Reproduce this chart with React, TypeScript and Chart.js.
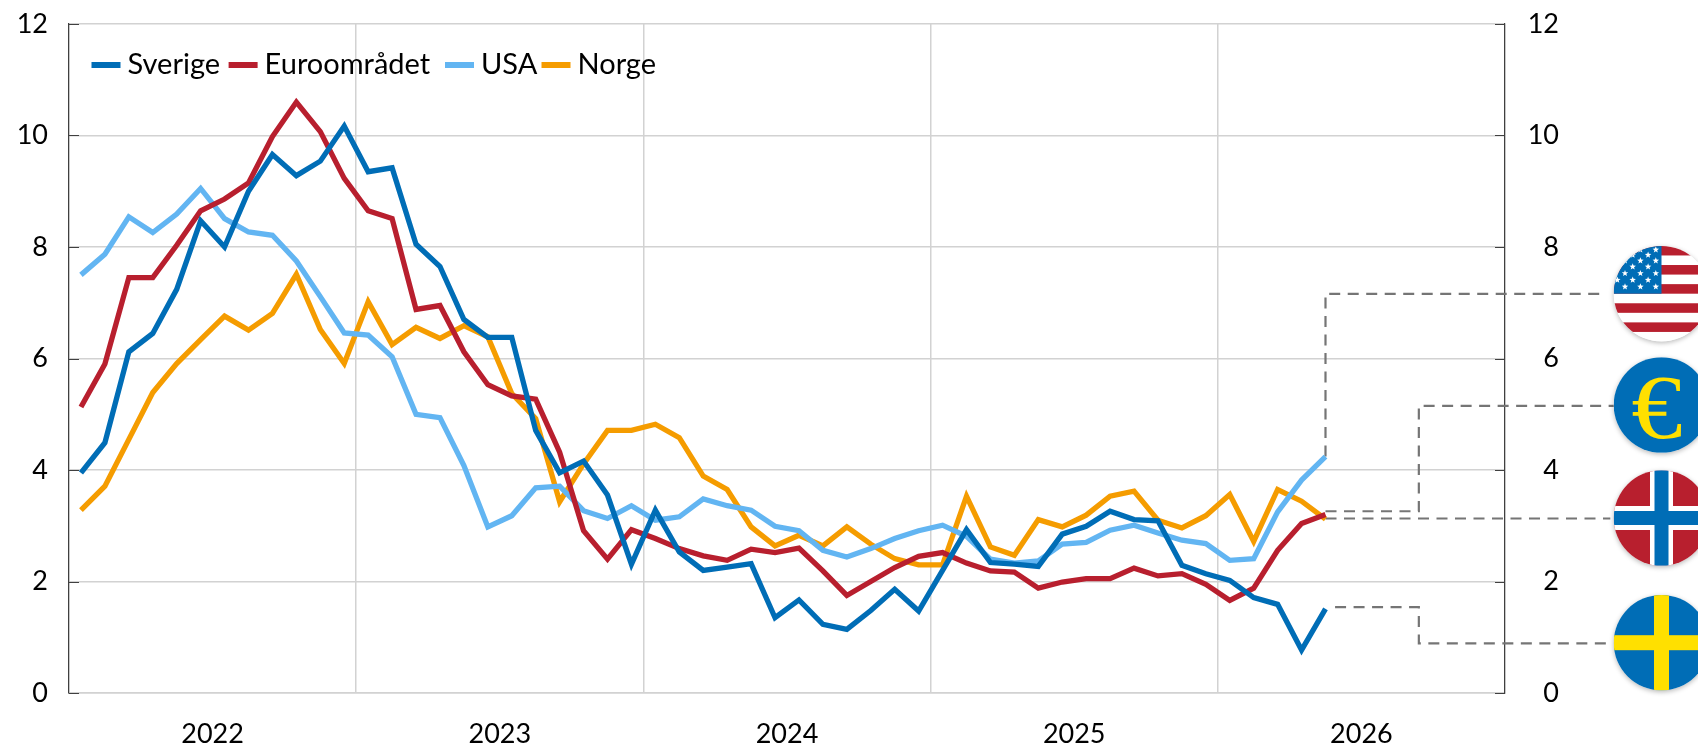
import React, { useEffect, useRef } from "react";
import { Chart, registerables } from "chart.js";

Chart.register(...registerables);

const years = ["2022", "2023", "2024", "2025", "2026"];
const yTicks = [0, 2, 4, 6, 8, 10, 12];

const sverige = [3.95, 4.49, 6.12, 6.45, 7.24, 8.47, 8.0, 9.0, 9.66, 9.28, 9.54, 10.17, 9.35, 9.42, 8.05, 7.65, 6.7, 6.38, 6.38, 4.71, 3.95, 4.16, 3.55, 2.31, 3.28, 2.53, 2.2, 2.26, 2.32, 1.35, 1.67, 1.23, 1.14, 1.48, 1.86, 1.47, 2.2, 2.93, 2.34, 2.31, 2.27, 2.85, 2.99, 3.26, 3.11, 3.09, 2.29, 2.14, 2.02, 1.71, 1.59, 0.77, 1.51];
const euro = [5.13, 5.9, 7.45, 7.45, 8.03, 8.65, 8.86, 9.15, 9.98, 10.6, 10.07, 9.23, 8.65, 8.51, 6.88, 6.95, 6.12, 5.53, 5.33, 5.27, 4.32, 2.91, 2.4, 2.93, 2.77, 2.59, 2.46, 2.38, 2.58, 2.52, 2.6, 2.19, 1.75, 2.0, 2.25, 2.45, 2.52, 2.33, 2.19, 2.17, 1.88, 1.99, 2.05, 2.05, 2.24, 2.1, 2.14, 1.95, 1.66, 1.88, 2.56, 3.04, 3.2];
const usa = [7.5, 7.87, 8.54, 8.26, 8.59, 9.05, 8.51, 8.27, 8.21, 7.75, 7.11, 6.46, 6.42, 6.03, 5.0, 4.94, 4.08, 2.98, 3.18, 3.68, 3.71, 3.27, 3.13, 3.36, 3.1, 3.16, 3.48, 3.36, 3.28, 2.99, 2.91, 2.56, 2.44, 2.59, 2.77, 2.91, 3.01, 2.81, 2.4, 2.33, 2.37, 2.67, 2.7, 2.92, 3.01, 2.87, 2.74, 2.68, 2.38, 2.41, 3.25, 3.82, 4.24];
const norge = [3.28, 3.71, 4.55, 5.39, 5.91, 6.34, 6.76, 6.51, 6.81, 7.51, 6.52, 5.91, 7.02, 6.25, 6.56, 6.36, 6.59, 6.39, 5.37, 4.92, 3.43, 4.11, 4.71, 4.71, 4.82, 4.58, 3.89, 3.65, 2.98, 2.64, 2.83, 2.64, 2.98, 2.67, 2.41, 2.3, 2.3, 3.53, 2.62, 2.47, 3.11, 2.98, 3.19, 3.53, 3.62, 3.1, 2.96, 3.18, 3.56, 2.72, 3.65, 3.44, 3.12];

// Leader lines from each series' last value to its flag: [month position, value]
const usaLeader = [[52.5, 4.24], [52.5, 7.16], [64.1, 7.16]];
const euroLeader = [[52.5, 3.26], [56.4, 3.26], [56.4, 5.15], [64.6, 5.15]];
const norgeLeader = [[52.5, 3.13], [64.4, 3.13]];
const sverigeLeader = [[52.9, 1.54], [56.4, 1.54], [56.4, 0.89], [64.5, 0.89]];

const BLUE = "#006DB6";
const RED = "#B81F2E";
const LIGHT = "#62B5F2";
const ORANGE = "#F59C00";
const YELLOW = "#FFE000";
const FONT = "Lato";
const TICK_SIZE = 27;
const LEGEND_SIZE = 29;

const series = [
  { label: "Sverige", values: sverige, color: BLUE },
  { label: "Euroområdet", values: euro, color: RED },
  { label: "USA", values: usa, color: LIGHT },
  { label: "Norge", values: norge, color: ORANGE },
];
const leaders = [usaLeader, euroLeader, norgeLeader, sverigeLeader];
const legendLefts = [91.5, 228.6, 445, 541.5];

function star(ctx: CanvasRenderingContext2D, cx: number, cy: number, r: number) {
  ctx.beginPath();
  for (let i = 0; i < 10; i++) {
    const a = -Math.PI / 2 + (i * Math.PI) / 5;
    const rr = i % 2 ? r * 0.42 : r;
    ctx.lineTo(cx + Math.cos(a) * rr, cy + Math.sin(a) * rr);
  }
  ctx.closePath();
  ctx.fill();
}

function disc(ctx: CanvasRenderingContext2D, cx: number, cy: number, r: number, paint: () => void) {
  ctx.save();
  ctx.shadowColor = "rgba(0,0,0,0.28)";
  ctx.shadowBlur = 5;
  ctx.shadowOffsetY = 1.5;
  ctx.fillStyle = "#fff";
  ctx.beginPath();
  ctx.arc(cx, cy, r, 0, Math.PI * 2);
  ctx.fill();
  ctx.restore();
  ctx.save();
  ctx.beginPath();
  ctx.arc(cx, cy, r, 0, Math.PI * 2);
  ctx.clip();
  paint();
  ctx.restore();
}

function drawFlags(ctx: CanvasRenderingContext2D) {
  const cx = 1661.5;
  const r = 47.8;
  const L = cx - r;
  const W = 2 * r;

  // USA
  const uy = 293.7;
  disc(ctx, cx, uy, r, () => {
    const T = uy - r;
    const h = (2 * r) / 10;
    ctx.fillStyle = "#fff";
    ctx.fillRect(L, T, W, 2 * r);
    ctx.fillStyle = RED;
    for (let i = 0; i < 10; i += 2) ctx.fillRect(L, T + i * h, W, h);
    ctx.fillStyle = BLUE;
    ctx.fillRect(L, T, r, 5 * h);
    ctx.fillStyle = "#fff";
    const rows = [-44, -38.7, -33, -27, -20.4, -13.7, -7];
    rows.forEach((dy, ri) => {
      const start = ri % 2 === 0 ? -5.7 : -13.4;
      for (let c = 0; c < 4; c++) star(ctx, cx + start - 15.4 * c, uy + dy, 3.4);
    });
  });

  // Euro
  const ey = 405;
  disc(ctx, cx, ey, r, () => {
    ctx.fillStyle = BLUE;
    ctx.fillRect(L, ey - r, W, 2 * r);
    ctx.save();
    ctx.translate(cx - 4.5, ey + 33);
    ctx.scale(1.14, 1);
    ctx.fillStyle = YELLOW;
    ctx.font = '90px "Liberation Serif"';
    ctx.textAlign = "center";
    ctx.textBaseline = "alphabetic";
    ctx.fillText("€", 0, 0);
    ctx.restore();
  });

  // Norge
  const ny = 518;
  disc(ctx, cx, ny, r, () => {
    ctx.fillStyle = RED;
    ctx.fillRect(L, ny - r, W, 2 * r);
    ctx.fillStyle = "#fff";
    ctx.fillRect(cx - 11.5, ny - r, 23, 2 * r);
    ctx.fillRect(L, ny - 12, W, 24);
    ctx.fillStyle = BLUE;
    ctx.fillRect(cx - 7, ny - r, 14, 2 * r);
    ctx.fillRect(L, ny - 7, W, 14);
  });

  // Sverige
  const sy = 642.7;
  disc(ctx, cx, sy, r, () => {
    ctx.fillStyle = BLUE;
    ctx.fillRect(L, sy - r, W, 2 * r);
    ctx.fillStyle = YELLOW;
    ctx.fillRect(cx - 7.5, sy - r, 15, 2 * r);
    ctx.fillRect(L, sy - 7.5, W, 15);
  });
}

const overlay = {
  id: "overlay",
  afterDraw(chart: any) {
    const ctx: CanvasRenderingContext2D = chart.ctx;
    const { left, right } = chart.chartArea;

    // inward tick marks on both value axes
    ctx.save();
    ctx.strokeStyle = "#404040";
    ctx.lineWidth = 1;
    yTicks.forEach((v) => {
      const y = Math.round(chart.scales.y.getPixelForValue(v)) + 0.5;
      ctx.beginPath();
      ctx.moveTo(left, y);
      ctx.lineTo(left + 10, y);
      ctx.moveTo(right - 10, y);
      ctx.lineTo(right, y);
      ctx.stroke();
    });
    ctx.restore();

    // legend
    ctx.save();
    ctx.font = `${LEGEND_SIZE}px ${FONT}`;
    ctx.textBaseline = "middle";
    ctx.textAlign = "left";
    const y = 65;
    series.forEach((s, i) => {
      const x = legendLefts[i];
      ctx.fillStyle = s.color;
      ctx.fillRect(x, y - 3, 29, 6);
      ctx.fillStyle = "#000";
      ctx.fillText(s.label, x + 36, y);
    });
    ctx.restore();

    drawFlags(ctx);
  },
};

export default function App() {
  const ref = useRef<HTMLCanvasElement>(null);
  useEffect(() => {
    document.body.style.margin = "0";
    const datasets: any[] = series.map((s) => ({
      label: s.label,
      data: s.values.map((v, i) => ({ x: i + 0.5, y: v })),
      borderColor: s.color,
      backgroundColor: s.color,
      borderWidth: 5.3,
      pointRadius: 0,
      tension: 0,
      borderJoinStyle: "miter",
      borderCapStyle: "butt",
    }));
    leaders.forEach((p, i) => {
      datasets.push({
        label: "leader" + i,
        data: p.map(([x, y]) => ({ x, y })),
        borderColor: "#757575",
        borderWidth: 2.2,
        borderDash: [11, 7.5],
        pointRadius: 0,
        tension: 0,
        clip: false,
      });
    });
    const tickFont = { family: FONT, size: TICK_SIZE };
    const fitValueAxis = (width: number) => (s: any) => {
      s.width = width;
      s.paddingTop = 0;
      s.paddingBottom = 0;
    };
    const chart = new Chart(ref.current!, {
      type: "line",
      data: { datasets },
      plugins: [overlay],
      options: {
        animation: false,
        responsive: false,
        layout: { padding: { top: 24, left: 0, right: 139, bottom: 0 } },
        plugins: { legend: { display: false }, tooltip: { enabled: false } },
        scales: {
          x: {
            type: "linear",
            position: "bottom",
            min: 0,
            max: 60,
            weight: 0,
            afterFit: (s: any) => { s.height = 0; },
            ticks: { display: false, stepSize: 12 },
            grid: { color: "#d2d2d2", lineWidth: 1.5, drawTicks: false },
            border: { color: "#d2d2d2", width: 1.5 },
          },
          years: {
            type: "category",
            position: "bottom",
            labels: years,
            offset: true,
            weight: 1,
            afterFit: (s: any) => { s.height = 52; },
            grid: { display: false, drawTicks: false },
            border: { display: false },
            ticks: { font: tickFont, color: "#000", padding: 25, maxRotation: 0, autoSkip: false },
          },
          y: {
            type: "linear",
            position: "left",
            min: 0,
            max: 12,
            afterFit: fitValueAxis(69),
            ticks: { font: tickFont, color: "#000", stepSize: 2, padding: 21 },
            grid: { color: "#d2d2d2", lineWidth: 1.5, drawTicks: false },
            border: { color: "#404040", width: 1.2 },
          },
          y2: {
            type: "linear",
            position: "right",
            min: 0,
            max: 12,
            afterFit: fitValueAxis(54),
            ticks: { font: tickFont, color: "#000", stepSize: 2, padding: 20, crossAlign: "far" },
            grid: { display: false, drawTicks: false },
            border: { color: "#404040", width: 1.2 },
          },
        },
      },
    } as any);
    return () => chart.destroy();
  }, []);
  return <canvas ref={ref} width={1698} height={745} style={{ display: "block" }} />;
}
